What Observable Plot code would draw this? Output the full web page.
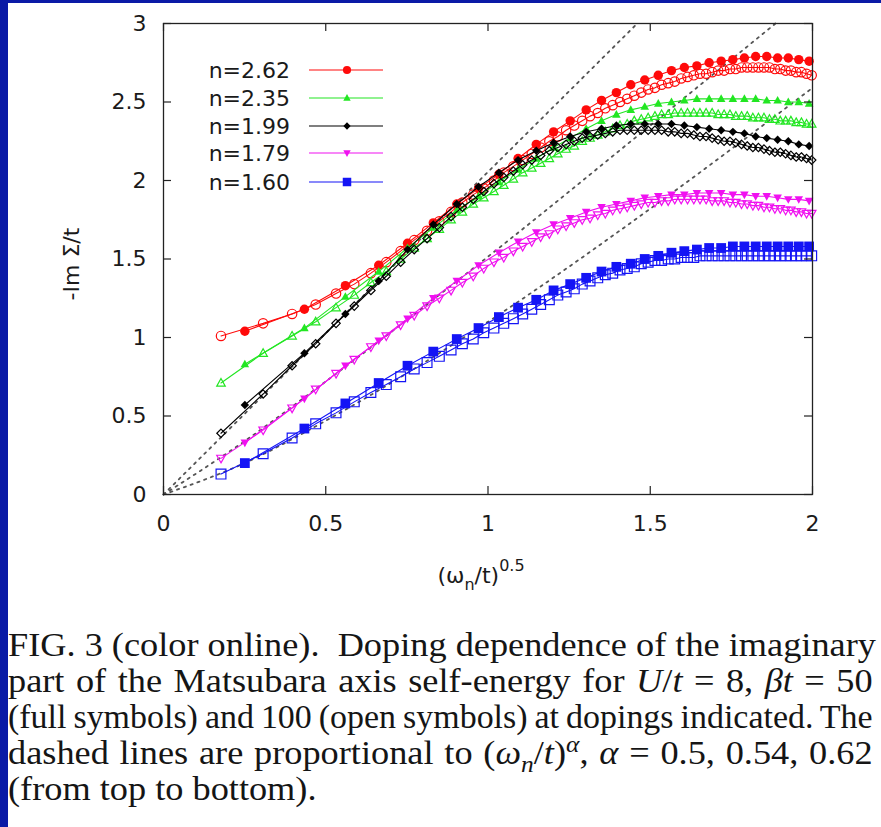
<!DOCTYPE html>
<html><head><meta charset="utf-8">
<script src="https://cdn.jsdelivr.net/npm/d3@7"></script>
<script src="https://cdn.jsdelivr.net/npm/@observablehq/plot@0.6"></script>
<style>
html,body{margin:0;padding:0;background:#0a1aa6;width:881px;height:827px;overflow:hidden}
#page{position:absolute;left:8px;top:3px;width:873px;height:824px;background:#fff}
#chart svg{display:block}
#caption{position:absolute;left:0;top:624px;width:786px;font-family:"Liberation Serif","Times New Roman",serif;font-size:33px;line-height:36px;color:#151515;transform:scaleX(1.10);transform-origin:0 0}
#caption .l{width:786px;text-align:justify;text-align-last:justify;white-space:nowrap;transform-origin:0 0}
#caption .l.last{text-align:left;text-align-last:left}
#caption sub,#caption sup{font-size:0.7em;line-height:0}
</style></head>
<body>
<div id="page">
<div id="chart"></div>
<div id="caption">
<div class="l">FIG. 3 (color online).&nbsp; Doping dependence of the imaginary</div>
<div class="l">part of the Matsubara axis self-energy for <i>U</i>/<i>t</i> = 8, <i>βt</i> = 50</div>
<div class="l">(full symbols) and 100 (open symbols) at dopings indicated. The</div>
<div class="l">dashed lines are proportional to (<i>ω<sub>n</sub></i>/<i>t</i>)<sup><i>α</i></sup>, <i>α</i> = 0.5, 0.54, 0.62</div>
<div class="l last">(from top to bottom).</div>
</div>
</div>
<script>
// ---------- data ----------
const xTicks = [0, 0.5, 1, 1.5, 2];
const yTicks = [0, 0.5, 1, 1.5, 2, 2.5, 3];
const dopings = ["n=2.62", "n=2.35", "n=1.99", "n=1.79", "n=1.60"];
const colors = ["#ff0a0a", "#22e622", "#000000", "#f010f0", "#1414f5"];

// (omega_n/t)^0.5 for beta t = 50 (full) and beta t = 100 (open)
const xFull = [0.2507,0.4342,0.5605,0.6632,0.7520,0.8314,0.9038,0.9708,1.0335,1.0926,1.1487,1.2021,1.2533,1.3025,1.3499,1.3956,1.4400,1.4830,1.5247,1.5654,1.6050,1.6437,1.6815,1.7185,1.7546,1.7901,1.8249,1.8590,1.8925,1.9254,1.9577,1.9896];
const xOpen = [0.1772,0.3070,0.3963,0.4690,0.5317,0.5879,0.6391,0.6865,0.7308,0.7726,0.8122,0.8500,0.8862,0.9210,0.9545,0.9869,1.0182,1.0486,1.0781,1.1069,1.1349,1.1623,1.1890,1.2151,1.2407,1.2658,1.2904,1.3145,1.3382,1.3615,1.3843,1.4068,1.4290,1.4508,1.4723,1.4935,1.5144,1.5350,1.5553,1.5754,1.5952,1.6148,1.6341,1.6532,1.6721,1.6908,1.7093,1.7276,1.7457,1.7636,1.7813,1.7988,1.8162,1.8334,1.8505,1.8674,1.8841,1.9007,1.9172,1.9335,1.9497,1.9658,1.9817,1.9975];

const yRedFull = [1.04,1.18,1.33,1.46,1.60,1.73,1.85,1.95,2.04,2.14,2.23,2.31,2.38,2.45,2.51,2.56,2.61,2.64,2.67,2.70,2.72,2.73,2.75,2.76,2.77,2.78,2.79,2.79,2.78,2.78,2.77,2.76];
const yRedOpen = [1.01,1.09,1.15,1.21,1.28,1.34,1.41,1.48,1.55,1.62,1.68,1.74,1.80,1.86,1.91,1.95,2.00,2.05,2.09,2.13,2.17,2.21,2.25,2.28,2.32,2.35,2.38,2.41,2.43,2.46,2.48,2.50,2.52,2.54,2.56,2.58,2.59,2.61,2.62,2.63,2.65,2.66,2.67,2.68,2.68,2.69,2.70,2.70,2.71,2.71,2.72,2.72,2.72,2.72,2.72,2.72,2.71,2.71,2.70,2.70,2.69,2.69,2.68,2.67];

const yGreenFull = [0.83,1.06,1.26,1.42,1.57,1.70,1.81,1.90,1.99,2.07,2.14,2.21,2.27,2.33,2.38,2.42,2.45,2.47,2.49,2.50,2.51,2.52,2.52,2.52,2.52,2.52,2.52,2.51,2.51,2.50,2.50,2.49];
const yGreenOpen = [0.71,0.90,1.01,1.10,1.19,1.27,1.35,1.42,1.50,1.57,1.63,1.69,1.75,1.80,1.85,1.89,1.93,1.97,2.01,2.05,2.08,2.11,2.14,2.17,2.20,2.22,2.25,2.27,2.29,2.31,2.33,2.35,2.36,2.38,2.39,2.40,2.41,2.42,2.42,2.43,2.43,2.43,2.43,2.43,2.43,2.43,2.42,2.42,2.42,2.41,2.41,2.41,2.40,2.40,2.40,2.39,2.39,2.38,2.38,2.38,2.37,2.37,2.36,2.36];

const yBlackFull = [0.57,0.90,1.15,1.36,1.56,1.72,1.85,1.96,2.05,2.13,2.19,2.24,2.28,2.31,2.33,2.35,2.36,2.36,2.36,2.36,2.35,2.34,2.33,2.32,2.31,2.30,2.28,2.27,2.26,2.25,2.23,2.22];
const yBlackOpen = [0.39,0.64,0.82,0.96,1.09,1.20,1.30,1.39,1.48,1.56,1.63,1.70,1.77,1.83,1.88,1.93,1.98,2.02,2.06,2.10,2.13,2.16,2.19,2.21,2.23,2.25,2.27,2.28,2.29,2.30,2.31,2.32,2.32,2.32,2.32,2.32,2.32,2.32,2.31,2.31,2.30,2.30,2.29,2.28,2.28,2.27,2.26,2.25,2.25,2.24,2.23,2.22,2.21,2.21,2.20,2.19,2.18,2.18,2.17,2.16,2.15,2.15,2.14,2.13];

const yMagentaFull = [0.33,0.61,0.82,0.98,1.12,1.25,1.36,1.46,1.54,1.61,1.67,1.72,1.76,1.80,1.83,1.85,1.87,1.89,1.90,1.91,1.91,1.92,1.92,1.92,1.91,1.91,1.90,1.90,1.89,1.88,1.88,1.87];
const yMagentaOpen = [0.23,0.41,0.55,0.67,0.77,0.86,0.94,1.01,1.08,1.14,1.20,1.25,1.30,1.35,1.39,1.44,1.48,1.51,1.55,1.58,1.61,1.64,1.66,1.69,1.71,1.73,1.75,1.76,1.78,1.79,1.81,1.82,1.83,1.84,1.85,1.86,1.86,1.87,1.87,1.88,1.88,1.88,1.88,1.88,1.88,1.87,1.87,1.87,1.86,1.86,1.85,1.85,1.84,1.84,1.83,1.83,1.82,1.82,1.81,1.81,1.80,1.80,1.79,1.79];

const yBlueFull = [0.20,0.42,0.58,0.71,0.82,0.91,0.99,1.06,1.13,1.19,1.24,1.30,1.34,1.38,1.42,1.45,1.47,1.50,1.52,1.54,1.55,1.56,1.57,1.57,1.58,1.58,1.58,1.58,1.58,1.58,1.58,1.58];
const yBlueOpen = [0.13,0.26,0.36,0.45,0.52,0.59,0.65,0.70,0.75,0.80,0.84,0.88,0.92,0.96,0.99,1.03,1.06,1.09,1.12,1.15,1.18,1.21,1.24,1.27,1.29,1.31,1.34,1.36,1.38,1.40,1.41,1.43,1.44,1.45,1.47,1.48,1.49,1.49,1.50,1.50,1.51,1.51,1.51,1.52,1.52,1.52,1.52,1.52,1.52,1.52,1.52,1.52,1.52,1.52,1.52,1.52,1.52,1.52,1.52,1.52,1.52,1.52,1.52,1.52];

// dashed guide lines (alpha = 0.5, 0.54, 0.62)
const dashAx = [0, 1.46];
const dashAy = [0, 3.0];
const dashBx = [0, 0.25, 0.5, 1.0, 1.5, 1.886];
const dashBy = [0, 0.34, 0.72, 1.515, 2.35, 3.0];
const dashCx = [0, 0.25, 0.5, 1.0, 1.5, 2.0];
const dashCy = [0, 0.20, 0.47, 1.10, 1.82, 2.59];

// ---------- symbols ----------
const rad = s => Math.sqrt(s / Math.PI);
const symCircle = {draw(c, s){const r = rad(s); c.moveTo(r, 0); c.arc(0, 0, r, 0, 2*Math.PI); c.closePath();}};
const symTriUp = {draw(c, s){const r = rad(s); c.moveTo(0, -r); c.lineTo(r*0.95, r*0.7); c.lineTo(-r*0.95, r*0.7); c.closePath();}};
const symTriDown = {draw(c, s){const r = rad(s); c.moveTo(0, r); c.lineTo(r*0.95, -r*0.7); c.lineTo(-r*0.95, -r*0.7); c.closePath();}};
const symDiamond = {draw(c, s){const r = rad(s); c.moveTo(0, -r); c.lineTo(r, 0); c.lineTo(0, r); c.lineTo(-r, 0); c.closePath();}};
const symSquare = {draw(c, s){const r = rad(s); c.rect(-r, -r, 2*r, 2*r);}};
const symbols = [symCircle, symTriUp, symDiamond, symTriDown, symSquare];
const symR = [4.7, 4.5, 4.2, 4.5, 4.9];

const fullY = [yRedFull, yGreenFull, yBlackFull, yMagentaFull, yBlueFull];
const openY = [yRedOpen, yGreenOpen, yBlackOpen, yMagentaOpen, yBlueOpen];

const W = 873, H = 597, ML = 155, MR = 69, MT = 20, MB = 106;
const innerH = H - MT - MB, innerW = W - ML - MR, TK = 8;

const toRows = (xs, ys) => xs.map((x, i) => ({x, y: ys[i]}));
const dashes = [toRows(dashAx, dashAy), toRows(dashBx, dashBy), toRows(dashCx, dashCy)];

const marks = [];
for (const d of dashes) {
  marks.push(Plot.line(d, {x: "x", y: "y", curve: "monotone-x", stroke: "#555", strokeWidth: 1.8, strokeDasharray: "2.2,5"}));
}
for (let k = 0; k < 5; k++) {
  const full = toRows(xFull, fullY[k]);
  const open = toRows(xOpen, openY[k]);
  marks.push(Plot.line(open, {x: "x", y: "y", stroke: colors[k], strokeWidth: 1.1}));
  marks.push(Plot.dot(open, {x: "x", y: "y", symbol: symbols[k], r: symR[k], fill: "none", stroke: colors[k], strokeWidth: 1.2}));
  marks.push(Plot.line(full, {x: "x", y: "y", stroke: colors[k], strokeWidth: 1.1}));
  marks.push(Plot.dot(full, {x: "x", y: "y", symbol: symbols[k], r: symR[k], fill: colors[k], stroke: "none"}));
}
marks.push(
  Plot.frame({stroke: "#222", strokeWidth: 1.3}),
  Plot.tickX(xTicks, {x: d => d, insetTop: innerH - TK, stroke: "#222", strokeWidth: 1.2}),
  Plot.tickX(xTicks, {x: d => d, insetBottom: innerH - TK, stroke: "#222", strokeWidth: 1.2}),
  Plot.tickY(yTicks, {y: d => d, insetRight: innerW - TK, stroke: "#222", strokeWidth: 1.2}),
  Plot.tickY(yTicks, {y: d => d, insetLeft: innerW - TK, stroke: "#222", strokeWidth: 1.2}),
  Plot.axisX({ticks: xTicks, tickSize: 0, tickPadding: 21, tickFormat: d => String(d), label: null}),
  Plot.axisY({ticks: yTicks, tickSize: 0, tickPadding: 17, tickFormat: d => String(d), label: null})
);

const svgEl = Plot.plot({
  width: W, height: H,
  marginLeft: ML, marginRight: MR, marginTop: MT, marginBottom: MB,
  style: {fontFamily: "'DejaVu Sans', sans-serif", fontSize: "22px", color: "#1a1a1a", background: "transparent", overflow: "visible"},
  x: {domain: [0, 2]},
  y: {domain: [0, 3]},
  marks
});
document.getElementById("chart").appendChild(svgEl);

// ---------- axis titles & legend ----------
const svg = d3.select(svgEl);
svg.append("text")
  .attr("transform", "translate(71,261) rotate(-90)")
  .attr("text-anchor", "middle")
  .attr("font-family", "'DejaVu Sans', sans-serif").attr("font-size", 22).attr("fill", "#1a1a1a")
  .text("-Im Σ/t");
const xl = svg.append("text")
  .attr("x", 473).attr("y", 580)
  .attr("text-anchor", "middle")
  .attr("font-family", "'DejaVu Sans', sans-serif").attr("font-size", 22).attr("fill", "#1a1a1a");
xl.append("tspan").text("(ω");
xl.append("tspan").attr("dy", 7).attr("font-size", 16).text("n");
xl.append("tspan").attr("dy", -7).text("/t)");
xl.append("tspan").attr("dy", -12).attr("font-size", 16).text("0.5");

const legY = [67, 95, 123, 150, 179];
const lg = svg.append("g").attr("font-family", "'DejaVu Sans', sans-serif").attr("font-size", 22).attr("fill", "#1a1a1a");
dopings.forEach((name, k) => {
  const y = legY[k];
  lg.append("text").attr("x", 282).attr("y", y).attr("dy", "0.36em").attr("text-anchor", "end").text(name);
  lg.append("line").attr("x1", 301).attr("x2", 375).attr("y1", y).attr("y2", y).attr("stroke", colors[k]).attr("stroke-width", 1.1);
  const p = d3.path();
  symbols[k].draw(p, Math.PI * symR[k] * symR[k] * 0.75);
  lg.append("path").attr("d", p.toString()).attr("transform", `translate(339,${y})`).attr("fill", colors[k]);
});

// ---------- fit justified caption lines (tight TeX-like spacing) ----------
const TARGET = 865, BASEW = 786;
document.querySelectorAll("#caption .l:not(.last)").forEach(el => {
  el.style.textAlignLast = "left";
  el.style.textAlign = "left";
  const r = document.createRange();
  r.selectNodeContents(el);
  const w = r.getBoundingClientRect().width;   // natural width on the page
  el.style.textAlignLast = "";
  el.style.textAlign = "";
  const natural = w * 0.985;                    // allow a little space shrink
  if (natural > TARGET) {
    const ratio = TARGET / natural;
    el.style.wordSpacing = "-1.5px";
    el.style.width = (BASEW / ratio) + "px";
    el.style.transform = `scaleX(${ratio})`;
  }
});
</script>
</body></html>
